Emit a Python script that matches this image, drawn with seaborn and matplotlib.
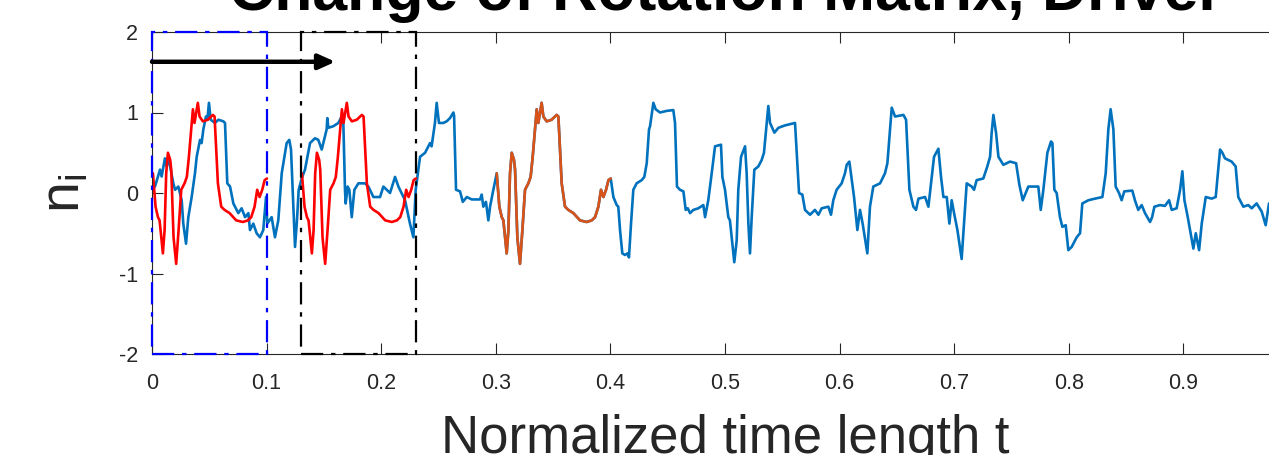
import numpy as np
import pandas as pd
import matplotlib
matplotlib.use("Agg")
import matplotlib.pyplot as plt
import seaborn as sns
from matplotlib.patches import Rectangle

# ---------------- data ----------------
blue1_t = [0.001, 0.0026, 0.0070, 0.0084, 0.0113, 0.0128, 0.0142, 0.0186, 0.0201, 0.0230,
           0.0259, 0.0273, 0.0297, 0.0317, 0.0346, 0.0375, 0.0390, 0.0419, 0.0433, 0.0448,
           0.0471, 0.0483, 0.0497, 0.0512, 0.0550, 0.0579, 0.0623, 0.0637, 0.0657, 0.0681,
           0.0710, 0.0753, 0.0782, 0.0812, 0.0841, 0.0855, 0.0884, 0.0913, 0.0942, 0.0971,
           0.0995, 0.1006, 0.1044, 0.1073, 0.1102, 0.1132, 0.1175, 0.1198, 0.1213, 0.1233,
           0.1248, 0.1265, 0.1280, 0.1306, 0.1335, 0.1379, 0.1422, 0.1451, 0.1481, 0.1510,
           0.1524, 0.1530, 0.1539, 0.1583, 0.1626, 0.1655, 0.1669, 0.1684, 0.1690, 0.1707,
           0.1722, 0.1743, 0.1766, 0.1801, 0.1859, 0.1888, 0.1932, 0.1990, 0.2019, 0.2077,
           0.2121, 0.2150, 0.2208, 0.2251, 0.2281, 0.2301, 0.2339, 0.2383, 0.2426, 0.2440,
           0.2469, 0.2484, 0.2504, 0.2542, 0.2571, 0.2600, 0.2630, 0.2636, 0.2653, 0.2688,
           0.2712, 0.2747, 0.2790, 0.2862, 0.2877, 0.2891, 0.2914, 0.2935, 0.2950, 0.2973,
           0.2996]
blue1_y = [0.10, 0.08, 0.29, 0.205, 0.43, 0.33, 0.45, 0.12, 0.04, 0.08,
           -0.09, -0.38, -0.63, -0.30, -0.05, 0.245, 0.45, 0.66, 0.62, 0.79,
           0.95, 0.91, 1.12, 0.91, 0.87, 0.91, 0.89, 0.87, 0.12, 0.08,
           -0.13, -0.25, -0.19, -0.30, -0.25, -0.46, -0.38, -0.50, -0.55, -0.46,
           -0.05, -0.38, -0.30, -0.55, -0.34, 0.245, 0.62, 0.66, 0.54, -0.17,
           -0.67, -0.34, 0.04, 0.18, 0.29, 0.62, 0.68, 0.66, 0.54, 0.71,
           0.79, 0.93, 0.81, 0.83, 0.87, 0.95, 0.91, 0.04, -0.13, 0.08,
           0.04, -0.30, 0.04, 0.12, 0.12, 0.08, -0.05, -0.05, 0.08, 0.0,
           0.20, 0.08, -0.09, -0.38, -0.55, 0.04, 0.45, 0.50, 0.62, 0.58,
           0.87, 1.12, 0.87, 0.87, 0.89, 0.93, 1.00, 0.96, 0.04, 0.02,
           -0.11, -0.05, -0.08, -0.08, -0.02, -0.17, -0.11, -0.34, -0.17, 0.0,
           0.16]

seg_t = [0.3008, 0.3031, 0.3052, 0.3066, 0.3081, 0.3095, 0.3110, 0.3124, 0.3139, 0.3159,
         0.3168, 0.3188, 0.3211, 0.3232, 0.3255, 0.3284, 0.3304, 0.3322, 0.3342, 0.3357,
         0.3371, 0.3400, 0.3415, 0.3444, 0.3487, 0.3531, 0.3546, 0.3575, 0.3604, 0.3633,
         0.3677, 0.3735, 0.3793, 0.3837, 0.3866, 0.3895, 0.3918, 0.3939, 0.3962, 0.3983,
         0.4003]
seg_y = [0.245, -0.17, -0.30, -0.34, -0.55, -0.75, -0.46, 0.245, 0.50, 0.41,
         0.29, -0.55, -0.88, -0.46, 0.04, 0.12, 0.20, 0.45, 0.79, 1.04,
         0.87, 1.12, 0.95, 0.89, 0.91, 0.97, 0.95, 0.12, -0.17, -0.21,
         -0.25, -0.34, -0.36, -0.34, -0.30, -0.17, 0.04, -0.05, 0.04, 0.16,
         0.18]

blue2_t = [0.4026, 0.4055, 0.4069, 0.4084, 0.4104, 0.4127, 0.4150, 0.4162, 0.4180, 0.4200,
           0.4229, 0.4273, 0.4296, 0.4317, 0.4337, 0.4346, 0.4375, 0.4395, 0.4433, 0.4491,
           0.4549, 0.4564, 0.4581, 0.4607, 0.4637, 0.4657, 0.4675, 0.4695, 0.4724, 0.4767,
           0.4811, 0.4826, 0.4854, 0.4884, 0.4913, 0.4965, 0.4977, 0.5000, 0.5029, 0.5043,
           0.5064, 0.5081, 0.5102, 0.5116, 0.5140, 0.5175, 0.5189, 0.5204, 0.5218, 0.5233,
           0.5256, 0.5291, 0.5320, 0.5340, 0.5364, 0.5378, 0.5393, 0.5431, 0.5466, 0.5524,
           0.5611, 0.5646, 0.5675, 0.5698, 0.5742, 0.5785, 0.5815, 0.5844, 0.5902, 0.5925,
           0.5945, 0.5974, 0.6018, 0.6047, 0.6062, 0.6085, 0.6106, 0.6126, 0.6155, 0.6178,
           0.6201, 0.6242, 0.6265, 0.6294, 0.6353, 0.6396, 0.6417, 0.6440, 0.6455, 0.6484,
           0.6557, 0.6580, 0.6609, 0.6644, 0.6667, 0.6688, 0.6746, 0.6775, 0.6824, 0.6862,
           0.6885, 0.6906, 0.6935, 0.6958, 0.6978, 0.6999, 0.7028, 0.7065, 0.7086, 0.7109,
           0.7153, 0.7173, 0.7196, 0.7254, 0.7289, 0.7313, 0.7327, 0.7342, 0.7365, 0.7386,
           0.7429, 0.7487, 0.7540, 0.7569, 0.7598, 0.7647, 0.7734, 0.7755, 0.7778, 0.7813,
           0.7845, 0.7857, 0.7874, 0.7894, 0.7923, 0.7944, 0.7973, 0.7996, 0.8025, 0.8069,
           0.8098, 0.8118, 0.8171, 0.8229, 0.8293, 0.8322, 0.8345, 0.8365, 0.8389, 0.8409,
           0.8438, 0.8461, 0.8484, 0.8554, 0.8577, 0.8606, 0.8636, 0.8665, 0.8709, 0.8727,
           0.8747, 0.8796, 0.8839, 0.8875, 0.8898, 0.8941, 0.8971, 0.8991, 0.9009, 0.9038,
           0.9087, 0.9108, 0.9137, 0.9160, 0.9195, 0.9247, 0.9282, 0.9320, 0.9340, 0.9363,
           0.9421, 0.9456, 0.9479, 0.9523, 0.9566, 0.9596, 0.9639, 0.9683, 0.9718, 0.9747,
           0.9800]
blue2_y = [-0.05, -0.15, -0.17, -0.46, -0.75, -0.77, -0.75, -0.80, -0.38, 0.04,
           0.12, 0.16, 0.20, 0.37, 0.79, 0.83, 1.12, 1.04, 1.00, 1.02,
           1.03, 0.87, 0.08, 0.04, 0.02, -0.21, -0.19, -0.25, -0.21, -0.19,
           -0.15, -0.30, -0.09, 0.245, 0.58, 0.60, 0.20, 0.04, -0.30, -0.34,
           -0.63, -0.86, -0.59, 0.04, 0.45, 0.58, 0.245, -0.38, -0.75, -0.30,
           0.29, 0.33, 0.41, 0.50, 0.87, 1.08, 0.87, 0.75, 0.81, 0.84,
           0.87, 0.0, -0.02, -0.21, -0.27, -0.21, -0.27, -0.19, -0.17, -0.27,
           -0.09, 0.04, 0.12, 0.245, 0.35, 0.39, 0.16, -0.05, -0.46, -0.21,
           -0.38, -0.75, -0.17, 0.08, 0.12, 0.245, 0.37, 0.79, 1.06, 0.95,
           0.97, 0.91, 0.04, -0.17, -0.21, -0.07, -0.05, -0.17, 0.45, 0.55,
           0.20, -0.05, -0.05, -0.38, -0.09, -0.25, -0.46, -0.82, -0.38, 0.12,
           0.08, 0.04, 0.16, 0.18, 0.33, 0.45, 0.75, 0.97, 0.75, 0.45,
           0.35, 0.39, 0.37, 0.10, -0.09, 0.08, 0.08, -0.21, 0.04, 0.50,
           0.64, 0.62, 0.04, 0.0, -0.30, -0.42, -0.40, -0.71, -0.67, -0.55,
           -0.50, -0.13, -0.09, -0.07, -0.05, 0.245, 0.79, 1.04, 0.79, 0.08,
           0.0, -0.09, 0.02, 0.03, -0.09, -0.21, -0.15, -0.25, -0.36, -0.30,
           -0.17, -0.15, -0.16, -0.09, -0.21, -0.19, 0.04, 0.27, -0.09, -0.30,
           -0.69, -0.50, -0.71, -0.38, -0.05, -0.07, -0.05, 0.54, 0.50, 0.43,
           0.39, 0.33, -0.05, -0.17, -0.15, -0.19, -0.13, -0.23, -0.40, -0.13,
           -0.10]

# sliding-window template positions
window_starts = [0.0, 0.13]
window_width = 0.1
template_offsets = [-0.30, -0.17]
arrow_y = 1.63
arrow_end = 0.16

x_ticks = [0, 0.1, 0.2, 0.3, 0.4, 0.5, 0.6, 0.7, 0.8, 0.9]
x_ticklabels = ["0", "0.1", "0.2", "0.3", "0.4", "0.5", "0.6", "0.7", "0.8", "0.9"]
y_ticks = [-2, -1, 0, 1, 2]
y_ticklabels = ["-2", "-1", "0", "1", "2"]

title = "Change of Rotation Matrix, Driver"
xlabel = "Normalized time length t"

# ---------------- style ----------------
sns.set_style("ticks")
plt.rcParams['font.family'] = ['Liberation Sans', 'DejaVu Sans']
plt.rcParams['mathtext.fontset'] = 'custom'
plt.rcParams['mathtext.rm'] = 'Liberation Sans'
plt.rcParams['mathtext.it'] = 'Liberation Sans'

BLUE = "#0072BD"
ORANGE = "#D95319"
RED = "#FF0000"
AX_COL = "#262626"

fig = plt.figure(figsize=(12.69, 4.55), dpi=100)
ax = fig.add_axes([152 / 1269, 101 / 455, 1146 / 1269, 322 / 455])

full_t = blue1_t + seg_t + blue2_t
full_y = blue1_y + seg_y + blue2_y
df_blue = pd.DataFrame({"t": full_t, "n": full_y})
sns.lineplot(data=df_blue, x="t", y="n", sort=False, estimator=None,
             color=BLUE, linewidth=1.9, ax=ax)

df_seg = pd.DataFrame({"t": seg_t, "n": seg_y})
sns.lineplot(data=df_seg, x="t", y="n", sort=False, estimator=None,
             color=ORANGE, linewidth=1.9, ax=ax)

for off in template_offsets:
    df_r = pd.DataFrame({"t": np.array(seg_t) + off, "n": seg_y})
    sns.lineplot(data=df_r, x="t", y="n", sort=False, estimator=None,
                 color=RED, linewidth=1.9, ax=ax)

dashdot = (0, (10, 3.5, 2, 3.5))
for ws, col in zip(window_starts, ["#0000FF", "black"]):
    ax.add_patch(Rectangle((ws, -2), window_width, 4, fill=False, edgecolor=col,
                           linewidth=1.6, linestyle=dashdot, zorder=5, clip_on=False))

ax.annotate("", xy=(arrow_end, arrow_y), xytext=(0, arrow_y),
            arrowprops=dict(arrowstyle="-|>,head_length=1.0,head_width=0.45",
                            color="black", lw=3.2, shrinkA=0, shrinkB=0),
            zorder=6)

ax.set_xlim(0, 1)
ax.set_ylim(-2, 2)
ax.set_xticks(x_ticks)
ax.set_xticklabels(x_ticklabels)
ax.set_yticks(y_ticks)
ax.set_yticklabels(y_ticklabels)
ax.tick_params(direction="in", length=8, width=0.8, colors=AX_COL,
               labelsize=15.5, top=True, right=True)
ax.tick_params(axis="x", pad=14)
ax.tick_params(axis="y", pad=10)
for s in ax.spines.values():
    s.set_color(AX_COL)
    s.set_linewidth(0.8)

ax.set_xlabel(xlabel, fontsize=38, color=AX_COL, labelpad=14)
ax.set_ylabel(r"$\mathregular{n_i}$", fontsize=40, color=AX_COL, labelpad=20)

fig.text(0.572, 0.979, title, ha="center", va="baseline",
         fontsize=45, fontweight="bold", color="black")

fig.savefig("out.png", dpi=100)
